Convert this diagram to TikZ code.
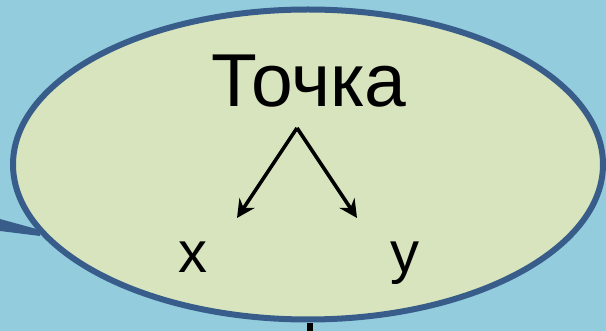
\documentclass[tikz,border=0pt]{standalone}
\usepackage{fontspec}
\setmainfont{Liberation Sans}
\usepackage{tikz}
\usetikzlibrary{arrows.meta, positioning}

\definecolor{sky}{HTML}{93CDDD}
\definecolor{pale}{HTML}{D7E4BD}
\definecolor{rim}{HTML}{385D8A}

\begin{document}
\begin{tikzpicture}[x=1pt, y=-1pt,
        big/.style={font=\fontsize{75}{78}\selectfont, inner sep=0pt, anchor=base},
        small/.style={font=\fontsize{58}{60}\selectfont, inner sep=0pt, anchor=base},
        arrow/.style={-{Stealth[length=18pt, width=18pt, inset=6pt]}, line width=3.6pt}
    ]
        \fill[sky] (0,0) rectangle (606,331);
        \useasboundingbox (0,0) rectangle (606,331);
        % tail and cloud
        \fill[rim] (0,219) -- (40,230) -- (40,236) -- (0,231) -- cycle;
        \draw[rim, fill=pale, line width=6pt] (308,164.5) ellipse [x radius=295pt, y radius=155pt];
        \fill[black] (307,323) rectangle (313,331);
        % texts
        \node[big] (point) at (309,107) {Точка};
        \node[small] (xx) at (193,273) {x};
        \node[small] (yy) at (405,273) {y};
        \coordinate (top) at (297,128);
        \coordinate (xend) at (237,218);
        \coordinate (yend) at (357,218);
        \draw[arrow] (top) -- (xend);
        \draw[arrow] (top) -- (yend);
    \end{tikzpicture}
\end{document}
